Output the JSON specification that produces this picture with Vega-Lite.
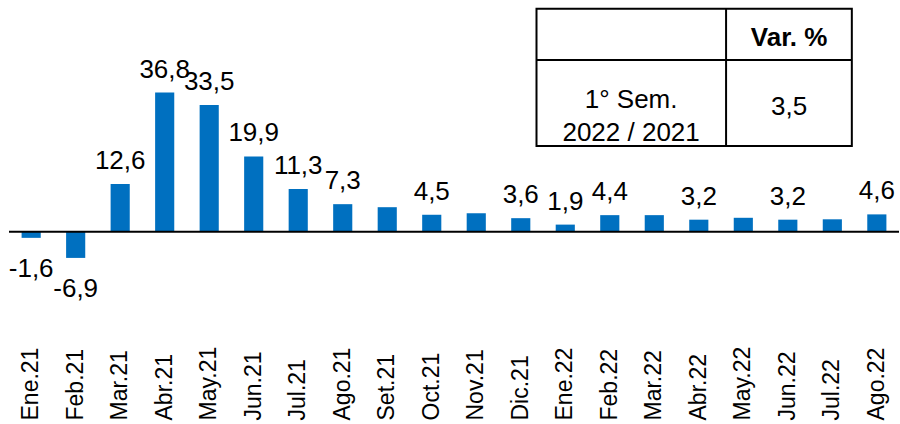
{
  "$schema": "https://vega.github.io/schema/vega-lite/v6.json",
  "width": 900,
  "height": 424,
  "autosize": {"type": "fit", "contains": "padding"},
  "padding": {"left": 8, "top": 0, "right": 0, "bottom": 0},
  "config": {"view": {"stroke": null}, "font": "Liberation Sans", "text": {"font": "Liberation Sans", "color": "black"}},
  "datasets": {
    "meses": [
      {"mes": "Ene.21", "v": -1.6, "lbl": "-1,6"},
      {"mes": "Feb.21", "v": -6.9, "lbl": "-6,9"},
      {"mes": "Mar.21", "v": 12.6, "lbl": "12,6"},
      {"mes": "Abr.21", "v": 36.8, "lbl": "36,8"},
      {"mes": "May.21", "v": 33.5, "lbl": "33,5"},
      {"mes": "Jun.21", "v": 19.9, "lbl": "19,9"},
      {"mes": "Jul.21", "v": 11.3, "lbl": "11,3"},
      {"mes": "Ago.21", "v": 7.3, "lbl": "7,3"},
      {"mes": "Set.21", "v": 6.5, "lbl": ""},
      {"mes": "Oct.21", "v": 4.5, "lbl": "4,5"},
      {"mes": "Nov.21", "v": 4.9, "lbl": ""},
      {"mes": "Dic.21", "v": 3.6, "lbl": "3,6"},
      {"mes": "Ene.22", "v": 1.9, "lbl": "1,9"},
      {"mes": "Feb.22", "v": 4.4, "lbl": "4,4"},
      {"mes": "Mar.22", "v": 4.4, "lbl": ""},
      {"mes": "Abr.22", "v": 3.2, "lbl": "3,2"},
      {"mes": "May.22", "v": 3.7, "lbl": ""},
      {"mes": "Jun.22", "v": 3.2, "lbl": "3,2"},
      {"mes": "Jul.22", "v": 3.3, "lbl": ""},
      {"mes": "Ago.22", "v": 4.6, "lbl": "4,6"}
    ],
    "tabla": [
      {"encabezado": "Var. %", "periodo": "1° Sem.\n2022 / 2021", "variacion": "3,5"}
    ]
  },
  "layer": [
    {
      "data": {"name": "meses"},
      "encoding": {
        "x": {
          "field": "mes", "type": "nominal", "sort": null,
          "scale": {"paddingInner": 0.57, "paddingOuter": 0.283},
          "axis": {
            "title": null, "orient": "bottom", "domain": false, "ticks": false, "grid": false,
            "labelAngle": -90, "labelAlign": "left", "labelBaseline": "middle",
            "labelPadding": -4, "labelFontSize": 23, "labelColor": "black",
            "labelFont": "Liberation Sans", "labelOverlap": false, "labelBound": false
          }
        },
        "y": {
          "field": "v", "type": "quantitative",
          "scale": {"domain": [-50.78, 61.24], "nice": false, "zero": false},
          "axis": null
        }
      },
      "layer": [
        {"mark": {"type": "bar", "color": "#0070C0"}},
        {
          "mark": {"type": "text", "fontSize": 26, "baseline": "alphabetic", "dy": -15},
          "encoding": {"text": {"condition": {"test": "datum.v >= 0", "field": "lbl"}, "value": ""}}
        },
        {
          "mark": {"type": "text", "fontSize": 26, "baseline": "top", "dy": 18},
          "encoding": {"text": {"condition": {"test": "datum.v < 0", "field": "lbl"}, "value": ""}}
        }
      ]
    },
    {
      "data": {"name": "tabla"},
      "mark": {"type": "rule", "color": "black", "strokeWidth": 2},
      "encoding": {
        "y": {"datum": 0, "type": "quantitative", "scale": {"domain": [-50.78, 61.24], "nice": false, "zero": false}, "axis": null}
      }
    },
    {
      "data": {"name": "tabla"},
      "mark": {"type": "rect", "fill": "white", "stroke": "black", "strokeWidth": 2},
      "encoding": {
        "x": {"datum": 11.854, "type": "quantitative", "scale": {"domain": [0, 20], "nice": false, "zero": false}, "axis": null},
        "x2": {"datum": 18.94},
        "y": {"datum": 58.94, "type": "quantitative", "scale": {"domain": [-50.78, 61.24], "nice": false, "zero": false}, "axis": null},
        "y2": {"datum": 22.67}
      }
    },
    {
      "data": {"name": "tabla"},
      "mark": {"type": "rule", "color": "black", "strokeWidth": 2},
      "encoding": {
        "x": {"datum": 16.114, "type": "quantitative", "scale": {"domain": [0, 20], "nice": false, "zero": false}, "axis": null},
        "y": {"datum": 58.94, "type": "quantitative", "scale": {"domain": [-50.78, 61.24], "nice": false, "zero": false}, "axis": null},
        "y2": {"datum": 22.67}
      }
    },
    {
      "data": {"name": "tabla"},
      "mark": {"type": "rule", "color": "black", "strokeWidth": 2},
      "encoding": {
        "x": {"datum": 11.854, "type": "quantitative", "scale": {"domain": [0, 20], "nice": false, "zero": false}, "axis": null},
        "x2": {"datum": 18.94},
        "y": {"datum": 45.39, "type": "quantitative", "scale": {"domain": [-50.78, 61.24], "nice": false, "zero": false}, "axis": null}
      }
    },
    {
      "data": {"name": "tabla"},
      "mark": {"type": "text", "fontSize": 26, "fontWeight": "bold", "align": "center", "baseline": "middle"},
      "encoding": {
        "x": {"datum": 17.53, "type": "quantitative", "scale": {"domain": [0, 20], "nice": false, "zero": false}, "axis": null},
        "y": {"datum": 51.2, "type": "quantitative", "scale": {"domain": [-50.78, 61.24], "nice": false, "zero": false}, "axis": null},
        "text": {"field": "encabezado"}
      }
    },
    {
      "data": {"name": "tabla"},
      "mark": {"type": "text", "fontSize": 26, "align": "center", "baseline": "middle", "lineBreak": "\n", "lineHeight": 33},
      "encoding": {
        "x": {"datum": 13.98, "type": "quantitative", "scale": {"domain": [0, 20], "nice": false, "zero": false}, "axis": null},
        "y": {"datum": 34.82, "type": "quantitative", "scale": {"domain": [-50.78, 61.24], "nice": false, "zero": false}, "axis": null},
        "text": {"field": "periodo"}
      }
    },
    {
      "data": {"name": "tabla"},
      "mark": {"type": "text", "fontSize": 26, "align": "center", "baseline": "middle"},
      "encoding": {
        "x": {"datum": 17.53, "type": "quantitative", "scale": {"domain": [0, 20], "nice": false, "zero": false}, "axis": null},
        "y": {"datum": 32.97, "type": "quantitative", "scale": {"domain": [-50.78, 61.24], "nice": false, "zero": false}, "axis": null},
        "text": {"field": "variacion"}
      }
    }
  ],
  "resolve": {"scale": {"x": "independent"}}
}
